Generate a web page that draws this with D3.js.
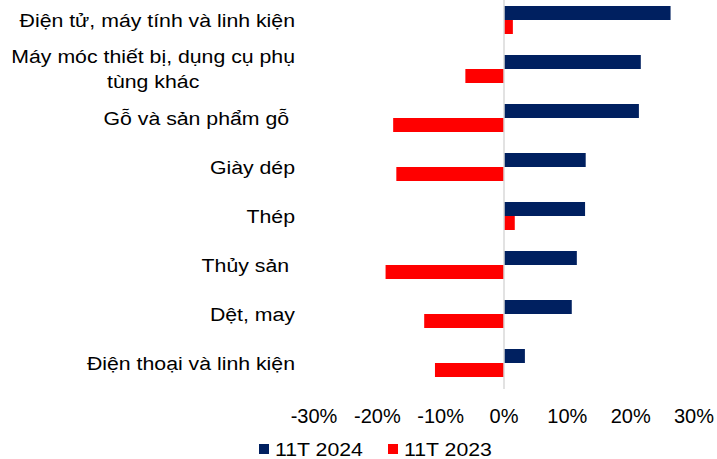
<!DOCTYPE html>
<html>
<head>
<meta charset="utf-8">
<script src="https://cdn.jsdelivr.net/npm/d3@7"></script>
<style>
  body { margin: 0; background: #fff; }
  text { font-family: Arial, "Liberation Sans", sans-serif; fill: #000; }
</style>
</head>
<body>
<div id="chart"></div>
<script>
// chart data
var categories = [
  ["Điện tử, máy tính và linh kiện"],
  ["Máy móc thiết bị, dụng cụ phụ", "tùng khác"],
  ["Gỗ và sản phẩm gỗ "],
  ["Giày dép"],
  ["Thép"],
  ["Thủy sản "],
  ["Dệt, may"],
  ["Điện thoại và linh kiện"]
];
var seriesNames = ["11T 2024", "11T 2023"];
var values2024 = [26.3, 21.6, 21.3, 12.9, 12.8, 11.5, 10.7, 3.3];
var values2023 = [1.4, -6.1, -17.5, -17.0, 1.7, -18.7, -12.6, -10.9];
var tickValues = [-30, -20, -10, 0, 10, 20, 30];
var colors = ["#002060", "#ff0000"];

var width = 717;
var height = 459;
var stretch = 1.12; // text in the picture is a bit wider than plain Arial

var svg = d3.select("#chart")
  .append("svg")
  .attr("width", width)
  .attr("height", height);

var x = d3.scaleLinear().domain([-30, 30]).range([314, 694]);

var keys = categories.map(function(d, i) { return i; });
var y0 = d3.scaleBand().domain(keys).range([-4.5, 387.5]);
var y1 = d3.scaleBand().domain(seriesNames).range([10.5, 38.5]);

var rows = keys.map(function(i) {
  return { i: i, vals: [values2024[i], values2023[i]] };
});

// bars
var groups = svg.append("g").selectAll("g")
  .data(rows)
  .enter().append("g")
  .attr("transform", function(d) { return "translate(0," + y0(d.i) + ")"; });

groups.selectAll("rect")
  .data(function(d) {
    return d.vals.map(function(v, k) { return { key: seriesNames[k], v: v, k: k }; });
  })
  .enter().append("rect")
  .attr("x", function(d) { return x(Math.min(0, d.v)); })
  .attr("y", function(d) { return y1(d.key); })
  .attr("width", function(d) { return Math.abs(x(d.v) - x(0)); })
  .attr("height", y1.bandwidth())
  .attr("fill", function(d) { return colors[d.k]; });

// zero line
svg.append("line")
  .attr("x1", x(0)).attr("x2", x(0))
  .attr("y1", 0).attr("y2", 389)
  .attr("stroke", "#d9d9d9")
  .attr("stroke-width", 1.5);

// category labels, right edge at 295, wrapped lines centred
var labelRight = 295;
var lineH = 25;
rows.forEach(function(d) {
  var lines = categories[d.i];
  var cy = y0(d.i) + y0.bandwidth() / 2;
  var g = svg.append("g")
    .attr("transform", "translate(" + labelRight + ",0) scale(" + stretch + ",1)");
  var texts = g.selectAll("text")
    .data(lines)
    .enter().append("text")
    .attr("font-size", "19px")
    .attr("text-anchor", "middle")
    .attr("dy", "0.35em")
    .attr("y", function(l, j) { return cy + (j - (lines.length - 1) / 2) * lineH; })
    .style("white-space", "pre")
    .text(function(l) { return l; });
  var w = 0;
  texts.each(function() { w = Math.max(w, this.getComputedTextLength()); });
  texts.attr("x", -w / 2);
});

// x axis tick labels
svg.append("g").selectAll("text")
  .data(tickValues)
  .enter().append("text")
  .attr("x", function(d) { return x(d); })
  .attr("y", 423)
  .attr("text-anchor", "middle")
  .attr("font-size", "20px")
  .text(function(d) { return d + "%"; });

// legend
var legendX = [259, 388];
var legend = svg.append("g").selectAll("g")
  .data(seriesNames)
  .enter().append("g")
  .attr("transform", function(d, i) { return "translate(" + legendX[i] + ",444)"; });

legend.append("rect")
  .attr("width", 10).attr("height", 10)
  .attr("fill", function(d, i) { return colors[i]; });

legend.append("text")
  .attr("transform", "translate(16,0) scale(" + stretch + ",1)")
  .attr("y", 5)
  .attr("dy", "0.35em")
  .attr("font-size", "19px")
  .text(function(d) { return d; });
</script>
</body>
</html>
